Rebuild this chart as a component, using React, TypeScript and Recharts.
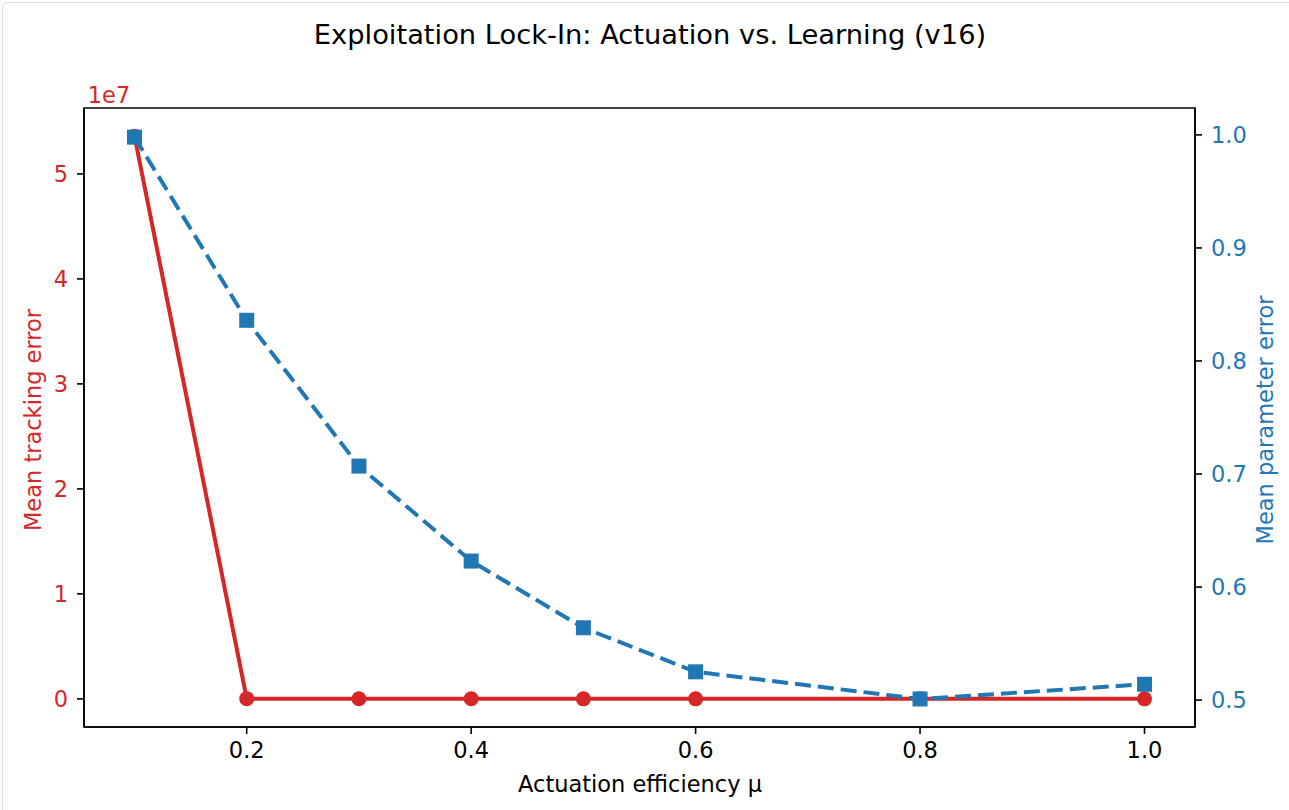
import { Line, LineChart, ReferenceArea, XAxis, YAxis } from 'recharts'

const mu = [0.1, 0.2, 0.3, 0.4, 0.5, 0.6, 0.8, 1.0];
const trackingError = [5.36e7, 21000, 9000, 5000, 3000, 2000, 1200, 800];
const paramError = [0.998, 0.836, 0.707, 0.623, 0.564, 0.525, 0.501, 0.514];

const xTicks = [0.2, 0.4, 0.6, 0.8, 1.0];
const leftTicks = [0, 1e7, 2e7, 3e7, 4e7, 5e7];
const rightTicks = [0.5, 0.6, 0.7, 0.8, 0.9, 1.0];

const RED = '#d62728';
const BLUE = '#1f77b4';
const FONT = '"DejaVu Sans", sans-serif';
const FS = 22.5;

const xDomain = [0.055, 1.045];
const leftDomain = [-2.68e6, 5.628e7];
const rightDomain = [0.4762, 1.0238];

const data = mu.map((m, i) => ({ mu: m, track: trackingError[i], param: paramError[i] }));

function Square(props: any) {
  const { cx, cy, index } = props;
  if (cx == null || cy == null) return <g key={`sq-${index}`} />;
  return <rect key={`sq-${index}`} x={cx - 7.5} y={cy - 7.5} width={15} height={15} fill={BLUE} />;
}

const centered = (left: number, top: number, extra: any = {}) => ({
  position: 'absolute' as const,
  left,
  top,
  transform: 'translate(-50%, -50%)',
  whiteSpace: 'nowrap' as const,
  lineHeight: 1,
  fontSize: FS,
  ...extra,
});

export default function App() {
  const tick = { fill: '#000', fontSize: FS, fontFamily: FONT };
  const line = { stroke: '#000', strokeWidth: 1.6 };
  return (
    <div style={{ position: 'absolute', left: 0, top: 0, width: 1289, height: 810, background: '#fff', fontFamily: FONT, overflow: 'hidden' }}>
      <div style={{ position: 'absolute', left: 2, top: 2, width: 1300, height: 820, border: '1px solid #dedede', borderRadius: 6 }} />
      <div style={centered(650, 35, { fontSize: 27.3, color: '#000' })}>
        Exploitation Lock-In: Actuation vs. Learning (v16)
      </div>
      <div style={centered(109, 95, { color: RED })}>1e7</div>
      <div style={centered(640, 784, { color: '#000' })}>Actuation efficiency μ</div>
      <div style={centered(33, 420, { color: RED, transform: 'translate(-50%, -50%) rotate(-90deg)' })}>
        Mean tracking error
      </div>
      <div style={centered(1265, 420, { color: BLUE, transform: 'translate(-50%, -50%) rotate(-90deg)' })}>
        Mean parameter error
      </div>
      <div style={{ position: 'absolute', left: 0, top: 0 }}>
        <LineChart width={1289} height={810} data={data} margin={{ top: 108, left: 24, right: 34, bottom: 33 }}>
          <XAxis
            dataKey="mu"
            type="number"
            domain={xDomain}
            ticks={xTicks}
            tickFormatter={(v) => v.toFixed(1)}
            allowDataOverflow
            height={50}
            tick={tick}
            tickSize={7}
            tickMargin={8}
            axisLine={line}
            tickLine={line}
          />
          <YAxis
            yAxisId="left"
            orientation="left"
            type="number"
            domain={leftDomain}
            ticks={leftTicks}
            allowDataOverflow
            tickFormatter={(v) => `${Math.round(v / 1e7)}`}
            width={60}
            tick={{ ...tick, fill: RED }}
            tickSize={7}
            tickMargin={9}
            axisLine={line}
            tickLine={line}
          />
          <YAxis
            yAxisId="right"
            orientation="right"
            type="number"
            domain={rightDomain}
            ticks={rightTicks}
            allowDataOverflow
            tickFormatter={(v) => v.toFixed(1)}
            width={60}
            tick={{ ...tick, fill: BLUE }}
            tickSize={7}
            tickMargin={9}
            axisLine={line}
            tickLine={line}
          />
          <ReferenceArea
            yAxisId="left"
            x1={xDomain[0]}
            x2={xDomain[1]}
            y1={leftDomain[0]}
            y2={leftDomain[1]}
            fill="none"
            stroke="#000"
            strokeWidth={1.6}
            ifOverflow="visible"
          />
          <Line
            yAxisId="left"
            dataKey="track"
            stroke={RED}
            strokeWidth={4}
            dot={{ r: 7.5, fill: RED, stroke: RED, strokeWidth: 0 }}
            activeDot={false}
            isAnimationActive={false}
          />
          <Line
            yAxisId="right"
            dataKey="param"
            stroke={BLUE}
            strokeWidth={4}
            strokeDasharray="16 7"
            dot={(p: any) => <Square key={`sq-${p.index}`} {...p} />}
            activeDot={false}
            isAnimationActive={false}
          />
        </LineChart>
      </div>
    </div>
  );
}
